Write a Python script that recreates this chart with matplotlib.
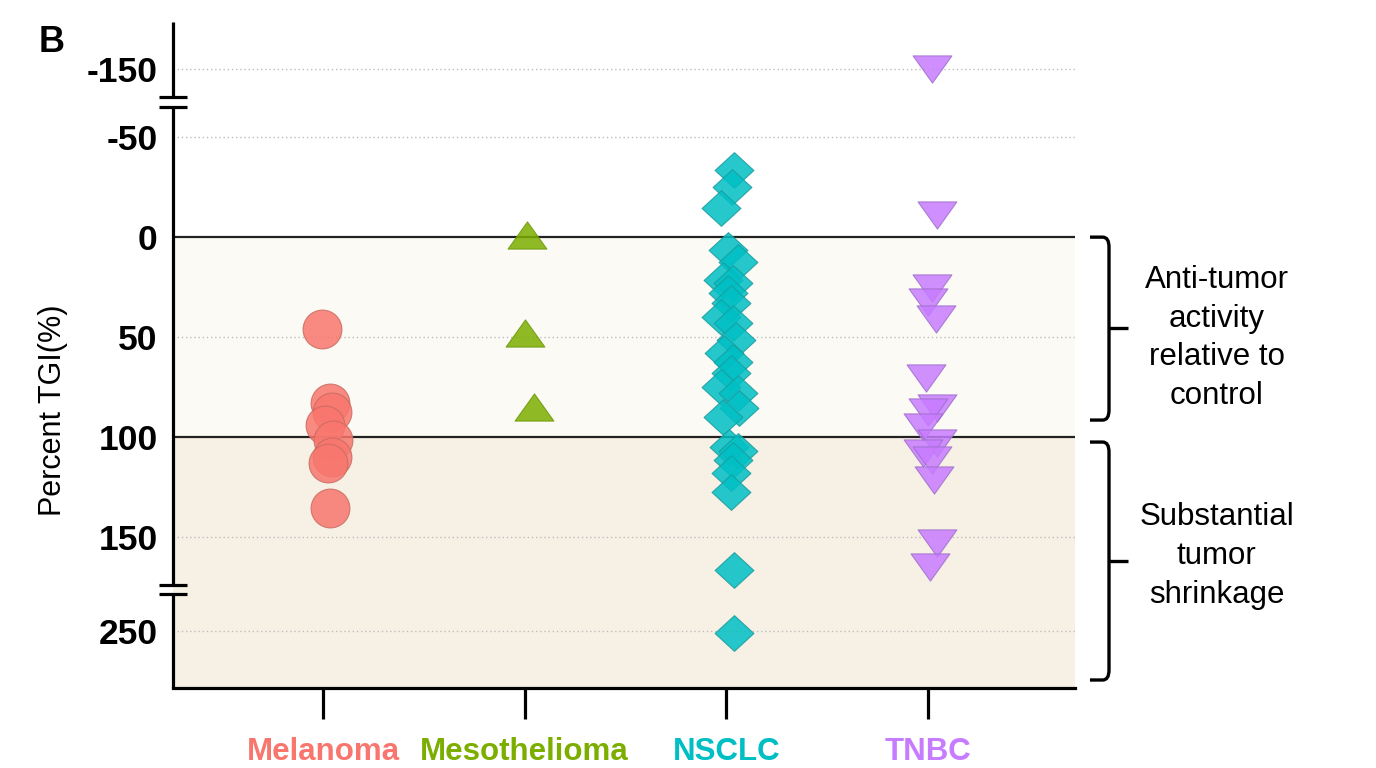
import numpy as np
import matplotlib.pyplot as plt
from matplotlib.path import Path
from matplotlib.patches import PathPatch
import matplotlib.transforms as mtransforms

plt.rcParams['font.family'] = ['Liberation Sans', 'DejaVu Sans']

# data (percent TGI) and small horizontal jitter (category units)
categories = ['Melanoma', 'Mesothelioma', 'NSCLC', 'TNBC']
cat_colors = ['#F8766D', '#7CAE00', '#00BFC4', '#C77CFF']

mel_vals = [46, 83, 87.5, 94, 101.5, 110, 113, 135.5]
mel_jit = [-0.005, 0.035, 0.045, 0.01, 0.05, 0.045, 0.025, 0.035]

meso_vals = [-1, 48, 85]
meso_jit = [0.01, 0.0, 0.045]

nsclc_vals = [-33.5, -25, -14.5, 6.5, 12.5, 21.5, 23, 28, 33, 40, 43, 51.5, 58, 62.5,
              68, 75, 78, 85.5, 90, 105, 107, 111.5, 118, 127.5, 166.5, 251]
nsclc_jit = [0.04, 0.03, -0.025, 0.01, 0.06, -0.015, 0.035, 0.01, 0.025, -0.025, 0.035,
             0.05, -0.01, 0.035, 0.025, -0.025, 0.06, 0.065, -0.015, 0.015, 0.06, 0.035,
             0.025, 0.025, 0.04, 0.04]

tnbc_vals = [-150, -11, 25.5, 32.5, 41, 70.5, 85.5, 87.5, 95, 103, 108, 111.5, 121.5, 153, 165]
tnbc_jit = [0.02, 0.045, 0.02, 0.0, 0.04, -0.01, 0.045, 0.0, -0.025, 0.045, -0.025, 0.02,
            0.03, 0.045, 0.01]

ytick_vals = [-150, -50, 0, 50, 100, 150, 250]
ytick_labels = ['-150', '-50', '0', '50', '100', '150', '250']
grid_vals = [-150, -50, 50, 150, 250]

# broken y axis: piecewise linear scale
brk_v = [-1000, -134.5, -68.5, 176.5, 229.6, 1000]
brk_d = [-934, -68.5, -68.4, 176.5, 176.6, 947]


def fwd(v):
    return np.interp(v, brk_v, brk_d)


def inv(d):
    return np.interp(d, brk_d, brk_v)


fig = plt.figure(figsize=(13.76, 7.68), dpi=100)
ax = fig.add_axes([173 / 1376, 1 - 688 / 768, 902 / 1376, 666 / 768])
ax.set_yscale('function', functions=(fwd, inv))
ax.set_ylim(278.5, -173.5)
ax.set_xlim(-0.744, 3.729)

# background bands and reference lines
ax.axhspan(0, 100, color='#FCFAF5', zorder=0, lw=0)
ax.axhspan(100, 278.5, color='#F7F0E5', zorder=0, lw=0)
for g in grid_vals:
    ax.axhline(g, color='#BDBDBD', ls=(0, (1, 2)), lw=1, zorder=1)
ax.axhline(0, color='#222222', lw=1.6, zorder=2)
ax.axhline(100, color='#222222', lw=1.6, zorder=2)

# markers
tri_up = Path([(-1, -0.7), (1, -0.7), (0, 0.7), (-1, -0.7)], closed=True)
tri_dn = Path([(-1, 0.7), (1, 0.7), (0, -0.7), (-1, 0.7)], closed=True)
diamond = Path([(0, 0.92), (1, 0), (0, -0.92), (-1, 0), (0, 0.92)], closed=True)

series = [
    (mel_vals, mel_jit, 'o', 0, '#C96B60'),
    (meso_vals, meso_jit, tri_up, 1, '#6E9A0A'),
    (nsclc_vals, nsclc_jit, diamond, 2, '#1A9C9E'),
    (tnbc_vals, tnbc_jit, tri_dn, 3, '#A070CC'),
]
for vals, jit, mk, i, ec in series:
    xs = i + np.array(jit)
    ax.scatter(xs, vals, s=780, marker=mk, facecolor=cat_colors[i], edgecolor=ec,
               linewidth=0.8, alpha=0.85, zorder=3)

# axes styling
for s in ['top', 'right', 'left']:
    ax.spines[s].set_visible(False)
ax.spines['bottom'].set_linewidth(2.3)
ax.spines['bottom'].set_zorder(5)

ax.set_xticks(range(len(categories)))
ax.set_xticklabels(categories, fontsize=22.5, fontweight='bold')
for lab, c in zip(ax.get_xticklabels(), cat_colors):
    lab.set_color(c)
ax.tick_params(axis='x', length=22, width=2.3, pad=13, color='black')

ax.set_yticks(ytick_vals)
ax.set_yticklabels(ytick_labels, fontsize=25.5, fontweight='bold')
ax.tick_params(axis='y', length=0, pad=11)
ax.minorticks_off()

ax.set_ylabel('Percent TGI(%)', fontsize=22, va='center')
ax.yaxis.set_label_coords(-0.133, 0.417)

# left spine in pieces with break marks
bt = mtransforms.blended_transform_factory(ax.transAxes, ax.transData)
for a, b in [(-173.5, -136), (-65, 174), (231.5, 278.5)]:
    ax.plot([0, 0], [a, b], color='black', lw=2.3, transform=bt, clip_on=False,
            solid_capstyle='butt', zorder=6)
for v in [-136, -65, 174, 231.5]:
    ax.plot([-0.0155, 0.0155], [v, v], color='black', lw=2.3, transform=bt,
            clip_on=False, solid_capstyle='butt', zorder=6)


# curly-ish brackets on the right
def brace(top, mid, bot):
    x_tip, x_v, x_mid, r = 1.0166, 1.0377, 1.0588, 5
    verts = [(x_tip, top), (x_v - 0.007, top), (x_v, top), (x_v, top + r),
             (x_v, bot - r), (x_v, bot), (x_v - 0.007, bot), (x_tip, bot)]
    codes = [Path.MOVETO, Path.LINETO, Path.CURVE3, Path.CURVE3,
             Path.LINETO, Path.CURVE3, Path.CURVE3, Path.LINETO]
    ax.add_patch(PathPatch(Path(verts, codes), fill=False, lw=2.4, color='black',
                           transform=bt, clip_on=False))
    ax.plot([x_v, x_mid], [mid, mid], color='black', lw=2.4, transform=bt,
            clip_on=False, solid_capstyle='butt')


brace(0, 45.5, 91.5)
brace(102.5, 162, 274.5)

ax.text(1.157, 50.5, 'Anti-tumor\nactivity\nrelative to\ncontrol', transform=bt,
        ha='center', va='center', fontsize=22.5, linespacing=1.38)
ax.text(1.157, 159.5, 'Substantial\ntumor\nshrinkage', transform=bt,
        ha='center', va='center', fontsize=22.5, linespacing=1.38)

fig.text(52 / 1376, 1 - 42 / 768, 'B', fontsize=26, fontweight='bold',
         ha='center', va='center')

fig.savefig('out.png', dpi=100)
